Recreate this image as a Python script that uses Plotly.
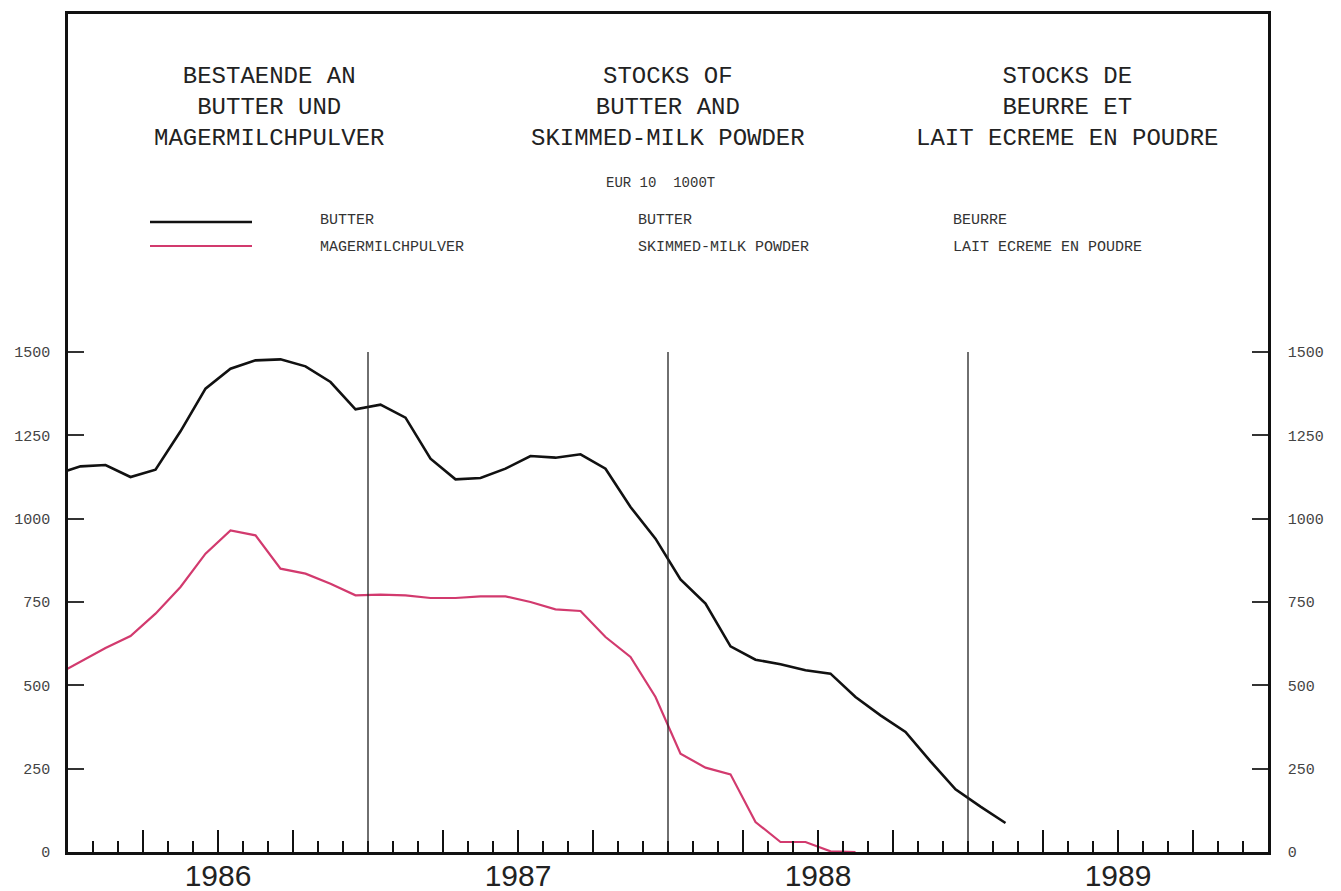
import plotly.graph_objects as go

# Months from Dec 1985 to Feb 1989 (points are plotted at mid-month)
months = ["1985-12",
          "1986-01", "1986-02", "1986-03", "1986-04", "1986-05", "1986-06",
          "1986-07", "1986-08", "1986-09", "1986-10", "1986-11", "1986-12",
          "1987-01", "1987-02", "1987-03", "1987-04", "1987-05", "1987-06",
          "1987-07", "1987-08", "1987-09", "1987-10", "1987-11", "1987-12",
          "1988-01", "1988-02", "1988-03", "1988-04", "1988-05", "1988-06",
          "1988-07", "1988-08", "1988-09", "1988-10", "1988-11", "1988-12",
          "1989-01", "1989-02"]

butter = [1133,
          1157, 1161, 1125, 1147, 1262, 1390, 1450, 1475, 1478, 1457, 1410, 1328,
          1342, 1303, 1180, 1118, 1122, 1150, 1188, 1183, 1193, 1150, 1035, 940,
          818, 745, 617, 577, 563, 545, 535, 465, 410, 360, 272, 188,
          136, 87]

# Skimmed-milk powder series ends in Aug 1988 (stocks run down to zero)
skim_months = months[:33]
skimmed = [530,
           570, 612, 648, 715, 795, 895, 965, 950, 850, 835, 805, 770,
           772, 770, 762, 762, 767, 767, 750, 728, 723, 645, 585, 465,
           295, 253, 233, 90, 30, 30, 2, 0]

years = ["1986", "1987", "1988", "1989"]
y_ticks = [0, 250, 500, 750, 1000, 1250, 1500]

# month position (months since Jan 1986) at mid-month
def mpos(m):
    y, mo = m.split("-")
    return (int(y) - 1986) * 12 + (int(mo) - 1) + 0.5

x_b = [mpos(m) for m in months]
x_s = [mpos(m) for m in skim_months]

PINK = "#d23a6e"
MONO = "Liberation Mono, DejaVu Sans Mono, monospace"
SANS = "Liberation Sans, Arial, sans-serif"

fig = go.Figure()
fig.add_trace(go.Scatter(x=x_b, y=butter, mode="lines", name="BUTTER",
                         line=dict(color="#111111", width=2.6), yaxis="y"))
fig.add_trace(go.Scatter(x=x_s, y=skimmed, mode="lines", name="MAGERMILCHPULVER",
                         line=dict(color=PINK, width=2.2), yaxis="y2"))

YMAX = 2514
n_months = 12 * len(years)
quarter_vals = [q for q in range(0, n_months + 1, 3) if q % 12 != 0]
quarter_text = [years[q // 12] if q % 12 == 6 else "" for q in quarter_vals]

# The page body has an 8px margin, so the figure margins are offset by -8px
fig.update_layout(
    width=1341, height=891,
    margin=dict(l=60, r=81, t=6, b=47, autoexpand=False),
    paper_bgcolor="white", plot_bgcolor="white",
    showlegend=False,
    xaxis=dict(range=[0, n_months], showgrid=False, zeroline=False,
               automargin=False,
               showline=True, linecolor="#111", linewidth=3, mirror=True,
               ticks="inside", ticklen=22, tickwidth=1.5, tickcolor="#111",
               tickvals=quarter_vals, ticktext=quarter_text,
               tickfont=dict(family=SANS, size=30, color="#222"),
               ticklabelstandoff=-5,
               minor=dict(ticks="inside", ticklen=11, tickwidth=1.5,
                          tickcolor="#111", dtick=1, tick0=0, showgrid=False)),
    yaxis=dict(range=[0, YMAX], showgrid=False, zeroline=False,
               automargin=False,
               showline=True, linecolor="#111", linewidth=2.5,
               ticks="inside", ticklen=16, tickwidth=1.5, tickcolor="#333",
               tickvals=y_ticks, ticktext=[str(v) for v in y_ticks],
               tickfont=dict(family=MONO, size=15, color="#444"),
               ticklabelstandoff=12),
    yaxis2=dict(range=[0, YMAX], overlaying="y", side="right",
                automargin=False,
                showgrid=False, zeroline=False,
                showline=True, linecolor="#111", linewidth=2.5,
                ticks="inside", ticklen=16, tickwidth=1.5, tickcolor="#333",
                tickvals=y_ticks, ticktext=[str(v) for v in y_ticks],
                tickfont=dict(family=MONO, size=15, color="#444"),
                ticklabelstandoff=14),
)

# Year separator lines
for k in range(1, len(years)):
    fig.add_shape(type="line", xref="x", yref="y", x0=12 * k, x1=12 * k,
                  y0=0, y1=1500, line=dict(color="#222", width=1.3))

def px(v):
    return (v - 68) / 1200.0

def py(v):
    return (852 - v) / 838.0

titles = [
    (269, "BESTAENDE AN<br>BUTTER UND<br>MAGERMILCHPULVER"),
    (668, "STOCKS OF<br>BUTTER AND<br>SKIMMED-MILK POWDER"),
    (1067, "STOCKS DE<br>BEURRE ET<br>LAIT ECREME EN POUDRE"),
]
for cx, txt in titles:
    fig.add_annotation(x=px(cx), y=py(107), xref="paper", yref="paper",
                       text=txt, showarrow=False, xanchor="center", yanchor="middle",
                       align="center", font=dict(family=MONO, size=24, color="#222"))

fig.add_annotation(x=px(660), y=py(183), xref="paper", yref="paper",
                   text="EUR 10  1000T", showarrow=False, xanchor="center",
                   yanchor="middle", font=dict(family=MONO, size=14, color="#333"))

# Legend swatches
fig.add_shape(type="line", xref="paper", yref="paper", x0=px(150), x1=px(252),
              y0=py(222), y1=py(222), line=dict(color="#111", width=2.6))
fig.add_shape(type="line", xref="paper", yref="paper", x0=px(150), x1=px(252),
              y0=py(246), y1=py(246), line=dict(color=PINK, width=2.2))

legend_cols = [
    (318, "BUTTER", "MAGERMILCHPULVER"),
    (636, "BUTTER", "SKIMMED-MILK POWDER"),
    (951, "BEURRE", "LAIT ECREME EN POUDRE"),
]
for lx, t1, t2 in legend_cols:
    for ly, t in ((221, t1), (247, t2)):
        fig.add_annotation(x=px(lx), y=py(ly), xref="paper", yref="paper",
                           text=t, showarrow=False, xanchor="left", yanchor="middle",
                           font=dict(family=MONO, size=15, color="#333"))

fig.write_html("out.html")
